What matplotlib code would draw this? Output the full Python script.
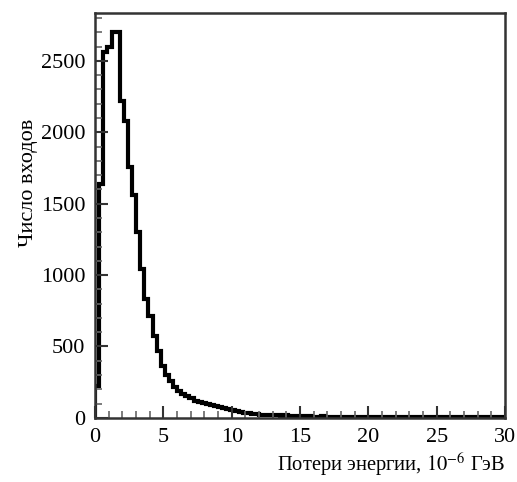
import numpy as np
import matplotlib.pyplot as plt
from matplotlib.ticker import MultipleLocator

# энергетические потери, 100 бинов от 0 до 30 (x 1e-6 ГэВ)
x_min, x_max, n_bins = 0, 30, 100
counts = [
    220, 1640, 2560, 2600, 2700, 2700, 2220, 2080, 1760, 1560,
    1300, 1040, 830, 710, 570, 470, 360, 300, 255, 215,
    185, 165, 150, 140, 120, 110, 105, 100, 90, 80,
    75, 68, 60, 55, 45, 40, 35, 32, 28, 25,
    22, 20, 22, 18, 17, 15, 18, 14, 12, 14,
    11, 10, 12, 8, 9, 10, 7, 8, 9, 6,
    7, 6, 8, 5, 6, 7, 5, 4, 6, 5,
    4, 5, 6, 4, 3, 5, 4, 3, 4, 5,
    3, 4, 3, 5, 2, 4, 3, 3, 4, 2,
    3, 4, 5, 3, 4, 6, 4, 3, 5, 4,
]
x_label = r'Потери энергии, $10^{-6}$ ГэВ'
y_label = 'Число входов'

plt.rcParams['font.family'] = ['Liberation Serif', 'DejaVu Serif']
plt.rcParams['mathtext.fontset'] = 'stix'

edges = np.linspace(x_min, x_max, n_bins + 1)

fig = plt.figure(figsize=(5.17, 4.82), dpi=100)
ax = fig.add_axes([0.184, 0.133, 0.793, 0.84])
ax.stairs(counts, edges, color='black', linewidth=3.0, baseline=0)

ax.set_xlim(x_min, x_max)
ax.set_ylim(0, 2835)
ax.xaxis.set_major_locator(MultipleLocator(5))
ax.xaxis.set_minor_locator(MultipleLocator(1))
ax.yaxis.set_major_locator(MultipleLocator(500))
ax.yaxis.set_minor_locator(MultipleLocator(100))
ax.tick_params(which='both', direction='in', labelcolor='black',
               labelsize=16, top=False, right=False)
ax.tick_params(which='major', length=9, width=1.5, pad=7, color='#333333')
ax.tick_params(which='minor', length=5, width=1.2, color='#666666')
for s in ax.spines.values():
    s.set_linewidth(1.8)
    s.set_color('#333333')

fig.text(0.977, 0.008, x_label, ha='right', va='bottom', fontsize=14.8)
fig.text(0.055, 0.62, y_label, ha='center', va='center', rotation=90, fontsize=16)

plt.savefig('out.png', dpi=100)
